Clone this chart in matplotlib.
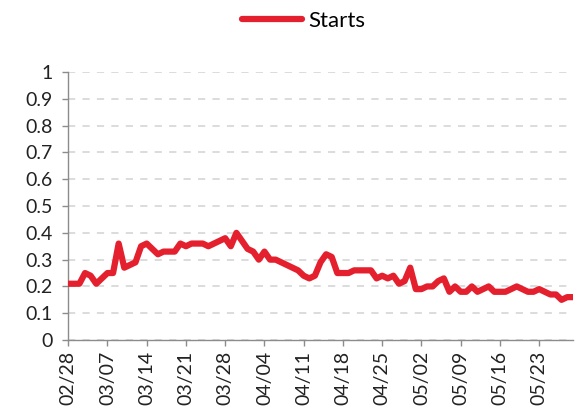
import matplotlib
matplotlib.use("Agg")
import matplotlib.pyplot as plt
import pandas as pd

# daily series, first day 2021-02-28
start_date = "2021-02-28"
starts = [0.21, 0.21, 0.21, 0.25, 0.24, 0.21, 0.23, 0.25, 0.25, 0.36,
          0.27, 0.28, 0.29, 0.35, 0.36, 0.34, 0.32, 0.33, 0.33, 0.33,
          0.36, 0.35, 0.36, 0.36, 0.36, 0.35, 0.36, 0.37, 0.38, 0.35,
          0.40, 0.37, 0.34, 0.33, 0.30, 0.33, 0.30, 0.30, 0.29, 0.28,
          0.27, 0.26, 0.24, 0.23, 0.24, 0.29, 0.32, 0.31, 0.25, 0.25,
          0.25, 0.26, 0.26, 0.26, 0.26, 0.23, 0.24, 0.23, 0.24, 0.21,
          0.22, 0.27, 0.19, 0.19, 0.20, 0.20, 0.22, 0.23, 0.18, 0.20,
          0.18, 0.18, 0.20, 0.18, 0.19, 0.20, 0.18, 0.18, 0.18, 0.19,
          0.20, 0.19, 0.18, 0.18, 0.19, 0.18, 0.17, 0.17, 0.15, 0.16,
          0.16]
tick_labels = ["02/28", "03/07", "03/14", "03/21", "03/28", "04/04", "04/11",
               "04/18", "04/25", "05/02", "05/09", "05/16", "05/23"]
y_ticks = [0, 0.1, 0.2, 0.3, 0.4, 0.5, 0.6, 0.7, 0.8, 0.9, 1]
y_labels = ["0", "0.1", "0.2", "0.3", "0.4", "0.5", "0.6", "0.7", "0.8", "0.9", "1"]

dates = pd.date_range(start_date, periods=len(starts), freq="D")
x = list(range(len(starts)))
tick_pos = [i for i, d in enumerate(dates) if d.strftime("%m/%d") in tick_labels]

plt.rcParams['font.family'] = ['Lato', 'DejaVu Sans']
red = '#E5202E'

fig = plt.figure(figsize=(5.78, 4.19), dpi=100)
ax = fig.add_axes([0.118, 0.1885, 0.873, 0.6395])

line, = ax.plot(x, starts, color=red, linewidth=4.5, solid_capstyle='round',
                solid_joinstyle='round', zorder=3)

ax.set_ylim(0, 1)
ax.set_xlim(0, len(starts) - 1)
ax.set_yticks(y_ticks)
ax.set_yticklabels(y_labels)
ax.set_xticks(tick_pos)
ax.set_xticklabels([dates[i].strftime("%m/%d") for i in tick_pos], rotation=90)

ax.yaxis.grid(True, linestyle=(0, (4, 4)), color='#D9D9D9', linewidth=1.3, zorder=0)
for s in ['top', 'right']:
    ax.spines[s].set_visible(False)
for s in ['left', 'bottom']:
    ax.spines[s].set_color('#8C8C8C')
    ax.spines[s].set_linewidth(1.0)
ax.tick_params(axis='both', colors='#8C8C8C', labelcolor='#222222',
               labelsize=14, length=4, width=1.0)
ax.tick_params(axis='y', pad=7)
ax.tick_params(axis='x', pad=4)

fig.legend([line], ['Starts'], loc='upper center', bbox_to_anchor=(0.525, 1.022),
           frameon=False, fontsize=16, handlelength=2.7, handletextpad=0.3)

plt.savefig('out.png', dpi=100)
